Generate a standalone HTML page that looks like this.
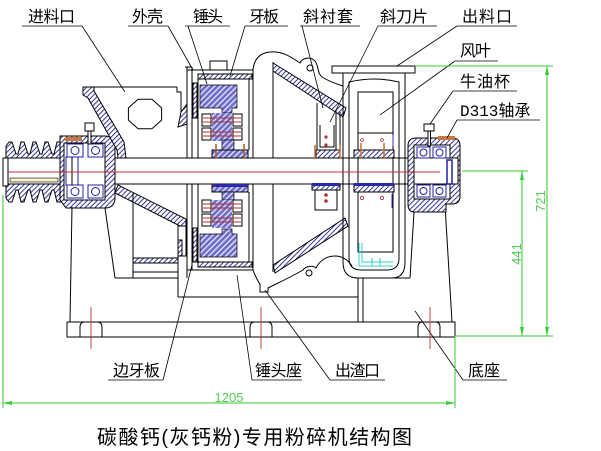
<!DOCTYPE html>
<html><head><meta charset="utf-8">
<style>
html,body{margin:0;padding:0;background:#fff;width:601px;height:451px;overflow:hidden}
svg{display:block}
text{font-family:"Liberation Sans","Noto Sans CJK SC",sans-serif}
</style></head><body>
<svg width="601" height="451" viewBox="0 0 601 451" xmlns="http://www.w3.org/2000/svg">
<defs>
<pattern id="hb" width="4" height="4" patternUnits="userSpaceOnUse" patternTransform="rotate(45)">
<rect width="4" height="4" fill="#6e6ec8"/><rect width="1.3" height="4" fill="#e8e8ff"/>
</pattern>
<pattern id="hk" width="3.5" height="3.5" patternUnits="userSpaceOnUse" patternTransform="rotate(45)">
<rect width="3.5" height="3.5" fill="#fff"/><rect width="1" height="3.5" fill="#34349a"/>
</pattern>
</defs>

<g stroke="#000" stroke-width="1" fill="none">
<rect x="8" y="158" width="450" height="26" fill="#fff"/>
<path d="M6,158 L6,146 L9,142 L12,142 L16,154 L18,154 L21,142 L24,142 L28,154 L30,154 L33,142 L36,142 L40,154 L42,154 L45,142 L48,142 L52,154 L54,154 L57,142 L61,142 L61,158 Z" fill="url(#hk)"/>
<path d="M6,184 L6,198 L9,202 L12,202 L16,190 L18,190 L21,202 L24,202 L28,190 L30,190 L33,202 L36,202 L40,190 L42,190 L45,202 L48,202 L52,190 L54,190 L57,202 L61,202 L61,184 Z" fill="url(#hk)"/>
<rect x="10" y="178" width="48" height="4" fill="#f5f0c8" stroke-width="0.6"/>
<rect x="3" y="158" width="5" height="28" fill="#fff"/>

<path d="M60,136 L104,136 Q115,136 115,147 L115,197 Q115,208 105,208 L66,208 L60,200 Z" fill="url(#hk)"/>
<rect x="64" y="143" width="41" height="57" fill="#fff"/>
<g stroke="#2020a0">
<rect x="67" y="144" width="16" height="13" fill="#fff"/><rect x="88" y="144" width="15" height="13" fill="#fff"/>
<rect x="67" y="185" width="16" height="13" fill="#fff"/><rect x="88" y="185" width="15" height="13" fill="#fff"/>
<circle cx="75" cy="150.5" r="4"/><circle cx="95.5" cy="150.5" r="4"/>
<circle cx="75" cy="191.5" r="4"/><circle cx="95.5" cy="191.5" r="4"/>
</g>
<rect x="66" y="157" width="12" height="28" fill="#fff" stroke="#2020a0"/>
<line x1="72" y1="157" x2="72" y2="185"/>
<rect x="65" y="137" width="17" height="4" fill="#c87840" stroke="none"/>
<rect x="85" y="123" width="9" height="8" fill="#fff"/>
<rect x="88" y="131" width="3" height="13" fill="#fff"/>

<polygon points="83,87 94,87 94,91 124,142 126,158 118,158 117,150 88,98 83,95" fill="url(#hk)"/>
<line x1="94" y1="87" x2="177" y2="87"/>
<polyline points="177,87 177,92 181,92 181,112"/>
<polygon points="181,112 187,104 187,124 178,127" fill="url(#hk)"/>
<polygon points="161.6,107.9 151.9,99.2 138.1,99.2 128.4,107.9 128.4,120.1 138.1,128.8 151.9,128.8 161.6,120.1"/>

<polygon points="118,185 186,219 186,226 180,226 115,193" fill="url(#hk)"/>
<rect x="178" y="226" width="8" height="30" fill="#fff"/>
<rect x="178" y="240" width="4" height="16" fill="url(#hk)"/>
<rect x="133" y="258" width="45" height="5" fill="url(#hk)"/>
<line x1="133" y1="272" x2="178" y2="272"/>
<line x1="133" y1="193" x2="133" y2="278"/>
<line x1="115" y1="278" x2="178" y2="278"/>
<line x1="178" y1="256" x2="178" y2="297"/>
<line x1="178" y1="297" x2="358" y2="297"/>

<line x1="72" y1="207" x2="70" y2="322"/>
<line x1="105" y1="208" x2="115" y2="278"/>
<line x1="445" y1="205" x2="452" y2="322"/>
<line x1="414" y1="212" x2="410" y2="278"/>
<line x1="363" y1="278" x2="410" y2="278"/>
<line x1="358" y1="278" x2="358" y2="322"/>
<line x1="363" y1="278" x2="363" y2="322"/>

<line x1="187" y1="67" x2="187" y2="158"/><line x1="187" y1="184" x2="187" y2="278"/>
<line x1="192" y1="67" x2="192" y2="158"/><line x1="192" y1="184" x2="192" y2="270"/>
<line x1="198" y1="74" x2="198" y2="158"/><line x1="198" y1="184" x2="198" y2="267"/>
<line x1="185" y1="67" x2="192" y2="67"/>
<line x1="187" y1="70" x2="253" y2="70"/>
<rect x="210" y="61" width="17" height="9" fill="#fff"/>
<rect x="198" y="74" width="54" height="5" fill="url(#hk)"/>
<rect x="193" y="83" width="4" height="35" fill="url(#hk)"/>
<rect x="193" y="228" width="4" height="34" fill="url(#hk)"/>
<rect x="198" y="262" width="54" height="5" fill="url(#hk)"/>
<line x1="187" y1="270" x2="253" y2="270"/>
<line x1="249" y1="79" x2="249" y2="150"/><line x1="253" y1="70" x2="253" y2="158"/>
<line x1="249" y1="192" x2="249" y2="262"/><line x1="253" y1="184" x2="253" y2="270"/>

<path d="M200,85 L237,85 L237,108 L232,108 L232,113 L222,113 L222,108 L200,108 Z" fill="url(#hb)" stroke-width="0.7"/>
<rect x="212" y="113" width="20" height="28" fill="url(#hb)" stroke="none"/>
<rect x="202" y="114" width="9" height="12" fill="#fff"/><rect x="202" y="128" width="9" height="12" fill="#fff"/>
<rect x="233" y="114" width="9" height="12" fill="#fff"/><rect x="233" y="128" width="9" height="12" fill="#fff"/>
<g stroke="#b03030"><line x1="203" y1="118" x2="241" y2="118"/><line x1="203" y1="122" x2="241" y2="122"/><line x1="203" y1="132" x2="241" y2="132"/><line x1="203" y1="136" x2="241" y2="136"/></g>
<rect x="222" y="140" width="12" height="10" fill="url(#hb)" stroke-width="0.7"/>
<rect x="212" y="150" width="36" height="8" fill="url(#hb)"/>
<g stroke="#a06030" stroke-width="1.5"><line x1="216" y1="144" x2="216" y2="158"/><line x1="244" y1="144" x2="244" y2="158"/></g>

<rect x="212" y="184" width="36" height="8" fill="url(#hb)"/>
<rect x="213" y="184" width="35" height="3" fill="#2a2aa8" stroke="none"/>
<rect x="222" y="192" width="12" height="8" fill="url(#hb)" stroke-width="0.7"/>
<rect x="212" y="200" width="20" height="28" fill="url(#hb)" stroke="none"/>
<rect x="202" y="200" width="9" height="12" fill="#fff"/><rect x="202" y="214" width="9" height="12" fill="#fff"/>
<rect x="233" y="200" width="9" height="12" fill="#fff"/><rect x="233" y="214" width="9" height="12" fill="#fff"/>
<g stroke="#b03030"><line x1="203" y1="204" x2="241" y2="204"/><line x1="203" y1="208" x2="241" y2="208"/><line x1="203" y1="218" x2="241" y2="218"/><line x1="203" y1="222" x2="241" y2="222"/></g>
<path d="M200,257 L237,257 L237,234 L232,234 L232,229 L222,229 L222,234 L200,234 Z" fill="url(#hb)" stroke-width="0.7"/>

<line x1="273" y1="62" x2="273" y2="158"/><line x1="273" y1="184" x2="273" y2="272"/>
<polygon points="273,63 346,108 343,117 273,71" fill="url(#hk)"/>
<polygon points="273,265 345,218 348,226 275,273" fill="url(#hk)"/>
<path d="M253,70 C254,60 259,53 270,52 C284,51 292,58 300,63 C302,58 310,56 315,61 C319,66 317,73 322,77 C330,82 337,84 343,86"/>
<circle cx="310" cy="68" r="3"/>
<path d="M253,270 C256,278 259,283 260,284 L260,292 L268,292 L268,288 C280,282 293,276 303,270 C306,266 313,265 316,268 C319,262 325,256 335,256 C342,256 348,260 352,266"/>
<circle cx="309" cy="273" r="3"/>

<line x1="317" y1="103" x2="317" y2="150"/>
<line x1="336" y1="110" x2="336" y2="150"/>
<line x1="340" y1="112" x2="340" y2="150"/>
<polyline points="320,125 320,147 334,147 334,125"/>
<rect x="316" y="150" width="24" height="8" fill="url(#hk)"/>
<g stroke="#c07030" stroke-width="1.5"><line x1="315" y1="145" x2="315" y2="158"/><line x1="340" y1="145" x2="340" y2="158"/></g>
<g fill="#b03030" stroke="none"><circle cx="326" cy="137" r="1.6"/><circle cx="326" cy="145" r="1.6"/><circle cx="326" cy="195" r="1.8"/><circle cx="326" cy="201" r="1.8"/></g>
<rect x="312" y="184" width="28" height="6" fill="url(#hk)"/>
<rect x="312" y="183" width="28" height="3" fill="#2a2aa8" stroke="none"/>
<rect x="315" y="190" width="22" height="20" fill="none"/>

<rect x="332" y="66" width="83" height="7" fill="#fff"/>
<path d="M343,73 L343,262 Q343,278 358,278 L392,278 Q405,278 405,262 L405,73"/>
<path d="M349,82 Q375,76 399,82 L399,258 Q399,270 387,270 L361,270 Q349,270 349,258 Z"/>
<rect x="358" y="92" width="35" height="160"/>
<line x1="358" y1="133" x2="393" y2="133"/>
<rect x="354" y="150" width="40" height="8" fill="url(#hk)"/>
<g stroke="#c07030" stroke-width="1.5"><line x1="361" y1="143" x2="361" y2="158"/><line x1="384" y1="143" x2="384" y2="158"/></g>
<rect x="354" y="184" width="40" height="8" fill="url(#hk)"/>
<rect x="354" y="183" width="40" height="3" fill="#2a2aa8" stroke="none"/>
<g fill="none" stroke="#b03030" stroke-width="0.8"><circle cx="362" cy="198" r="1.6"/><circle cx="382" cy="198" r="1.6"/><circle cx="362" cy="140" r="1.4"/><circle cx="382" cy="140" r="1.4"/></g>
<g stroke="#3030c0"><line x1="393" y1="135" x2="393" y2="146"/><line x1="392" y1="194" x2="392" y2="208"/></g>
<g stroke="#33cccc"><polyline points="359,243 359,266 393,266"/><polyline points="362,243 362,262 393,262"/><line x1="372" y1="258" x2="372" y2="266"/><line x1="380" y1="258" x2="380" y2="266"/></g>

<path d="M408,146 Q408,138 416,138 L452,138 Q460,138 460,146 L460,196 Q460,204 452,204 L446,204 L446,212 L414,212 Q408,212 408,204 Z" fill="url(#hk)"/>
<rect x="414" y="145" width="36" height="54" fill="#fff"/>
<rect x="414" y="158" width="44" height="26" fill="#fff"/>
<g stroke="#2020a0">
<rect x="417" y="147" width="13" height="11" fill="#fff"/><rect x="433" y="147" width="13" height="11" fill="#fff"/>
<rect x="417" y="185" width="13" height="12" fill="#fff"/><rect x="433" y="185" width="13" height="12" fill="#fff"/>
<circle cx="423.5" cy="152.5" r="3.5"/><circle cx="439.5" cy="152.5" r="3.5"/>
<circle cx="423.5" cy="191" r="3.5"/><circle cx="439.5" cy="191" r="3.5"/>
<rect x="447" y="160" width="5" height="24" fill="#fff" stroke-width="1.5"/>
</g>
<rect x="424" y="124" width="10" height="7" fill="#fff"/>
<rect x="428" y="131" width="2.5" height="15" fill="#fff"/>
<rect x="438" y="136" width="17" height="4" fill="#c87840" stroke="none"/>

<rect x="67" y="322" width="388" height="15" fill="#fff"/>
<path d="M80,337 L80,327 Q80,322 85,322 L97,322 Q102,322 102,327 L102,337"/>
<path d="M250,337 L250,327 Q250,322 255,322 L267,322 Q272,322 272,327 L272,337"/>
<path d="M418,337 L418,327 Q418,322 423,322 L435,322 Q440,322 440,327 L440,337"/>
</g>

<g stroke="#c03030" stroke-width="0.9">
<line x1="8" y1="172" x2="440" y2="172"/>
<line x1="91" y1="307" x2="91" y2="349"/>
<line x1="261" y1="307" x2="261" y2="349"/>
<line x1="430" y1="307" x2="430" y2="349"/>
</g>

<g stroke="#000" stroke-width="0.8">
<line x1="22" y1="26" x2="82" y2="26"/><line x1="82" y1="26" x2="125" y2="92"/>
<line x1="128" y1="26" x2="168" y2="26"/><line x1="168" y1="26" x2="193" y2="70"/>
<line x1="185" y1="26" x2="230" y2="26"/><line x1="188" y1="26" x2="207" y2="84"/>
<line x1="245" y1="26" x2="288" y2="26"/><line x1="245" y1="26" x2="230" y2="76"/>
<line x1="300" y1="26" x2="360" y2="26"/><line x1="302" y1="26" x2="323" y2="108"/>
<line x1="378" y1="26" x2="437" y2="26"/><line x1="378" y1="26" x2="330" y2="122"/>
<line x1="457" y1="26" x2="517" y2="26"/><line x1="457" y1="26" x2="397" y2="66"/>
<line x1="455" y1="61" x2="498" y2="61"/><line x1="455" y1="61" x2="380" y2="115"/>
<line x1="453" y1="91" x2="517" y2="91"/><line x1="453" y1="91" x2="430" y2="124"/>
<line x1="457" y1="120" x2="540" y2="120"/><line x1="457" y1="120" x2="447" y2="138"/>
<line x1="108" y1="380" x2="163" y2="380"/><line x1="163" y1="380" x2="192" y2="265"/>
<line x1="252" y1="380" x2="302" y2="380"/><line x1="252" y1="380" x2="237" y2="275"/>
<line x1="330" y1="380" x2="385" y2="380"/><line x1="330" y1="380" x2="265" y2="290"/>
<line x1="463" y1="380" x2="507" y2="380"/><line x1="463" y1="380" x2="415" y2="311"/>
</g>

<g stroke="#33cc33" stroke-width="1">
<line x1="415" y1="66" x2="553" y2="66"/>
<line x1="462" y1="171" x2="528" y2="171"/>
<line x1="455" y1="336" x2="553" y2="336"/>
<line x1="547" y1="66" x2="547" y2="336"/>
<line x1="522" y1="171" x2="522" y2="336"/>
<line x1="3" y1="195" x2="3" y2="408"/>
<line x1="455" y1="336" x2="455" y2="408"/>
<line x1="3" y1="403" x2="455" y2="403"/>
</g>
<g fill="#33cc33">
<polygon points="547,66 545,75 549,75"/><polygon points="547,336 545,327 549,327"/>
<polygon points="522,171 520,180 524,180"/><polygon points="522,336 520,327 524,327"/>
<polygon points="3,403 12,401 12,405"/><polygon points="455,403 446,401 446,405"/>
</g>
<g fill="#55cc55" font-size="13">
<text transform="translate(545,201) rotate(-90)" text-anchor="middle">721</text>
<text transform="translate(521,254) rotate(-90)" text-anchor="middle">441</text>
<text x="229" y="402" text-anchor="middle">1205</text>
</g>

<g fill="#000" font-size="16">
<text x="28" y="22" textLength="47" lengthAdjust="spacing">进料口</text>
<text x="132" y="22" textLength="31" lengthAdjust="spacing">外壳</text>
<text x="193" y="22" textLength="30" lengthAdjust="spacing">锤头</text>
<text x="249" y="22" textLength="30" lengthAdjust="spacing">牙板</text>
<text x="303" y="22" textLength="50" lengthAdjust="spacing">斜衬套</text>
<text x="380" y="22" textLength="48" lengthAdjust="spacing">斜刀片</text>
<text x="462" y="22" textLength="50" lengthAdjust="spacing">出料口</text>
<text x="460" y="56" textLength="31" lengthAdjust="spacing">风叶</text>
<text x="460" y="87" textLength="50" lengthAdjust="spacing">牛油杯</text>
<text x="460" y="116"><tspan font-family="Liberation Mono, monospace">D313</tspan><tspan>轴承</tspan></text>
<text x="113" y="376" textLength="47" lengthAdjust="spacing">边牙板</text>
<text x="255" y="376" textLength="47" lengthAdjust="spacing">锤头座</text>
<text x="335" y="376" textLength="45" lengthAdjust="spacing">出渣口</text>
<text x="468" y="376" textLength="32" lengthAdjust="spacing">底座</text>
</g>
<text x="97" y="444" font-size="20" fill="#000" textLength="315" lengthAdjust="spacing">碳酸钙(灰钙粉)专用粉碎机结构图</text>
</svg>
</body></html>
